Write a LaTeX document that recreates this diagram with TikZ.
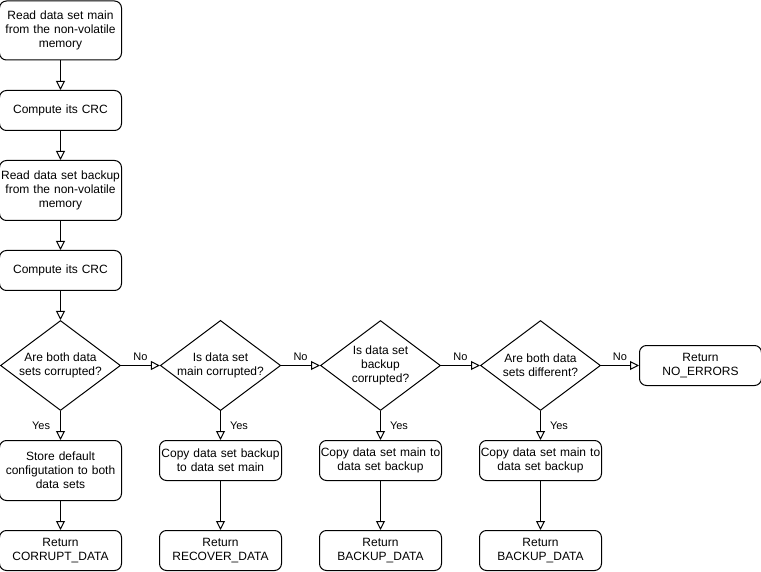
\documentclass[tikz,border=0pt]{standalone}
\usepackage{fontspec}
\setmainfont{Liberation Sans}
\usetikzlibrary{arrows.meta,shapes.geometric}
\begin{document}
\begin{tikzpicture}[x=1pt,y=-1pt,
  every node/.style={font=\fontsize{12}{14}\selectfont},
  box/.style={draw,line width=1pt,rounded corners=7pt,minimum width=120pt,align=center,inner sep=0pt,text width=122pt},
  dia/.style={draw,line width=1pt,diamond,minimum width=120pt,minimum height=90pt,inner sep=0pt,align=center,aspect=1.333},
  conn/.style={line width=1pt,-{Triangle[open,length=9pt,width=9pt]}},
  lbl/.style={font=\fontsize{11}{13}\selectfont,inner sep=0pt}]
\useasboundingbox (0,0) rectangle (761,572);
\node[box,minimum height=59pt] (b1) at (60.5,30.5) {Read data set main\\from the non-volatile\\memory};
\node[box,minimum height=40pt] (b2) at (60.5,110.5) {Compute its CRC};
\node[box,minimum height=60pt] (b3) at (60.5,190.5) {Read data set backup\\from the non-volatile\\memory};
\node[box,minimum height=40pt] (b4) at (60.5,270.5) {Compute its CRC};
\node[dia] (d1) at (60.5,365.5) {Are both data\\sets corrupted?};
\node[dia] (d2) at (220.5,365.5) {Is data set\\main corrupted?};
\node[dia] (d3) at (380.5,365.5) {Is data set\\backup\\corrupted?};
\node[dia] (d4) at (540.5,365.5) {Are both data\\sets different?};
\node[box,minimum height=40pt] (ne) at (700.5,365.5) {Return\\NO\_ERRORS};
\node[box,minimum height=60pt] (s1) at (60.5,470.5) {Store default\\configutation to both\\data sets};
\node[box,minimum height=40pt] (s2) at (220.5,460.5) {Copy data set backup\\to data set main};
\node[box,minimum height=40pt] (s3) at (380.5,460.5) {Copy data set main to\\data set backup};
\node[box,minimum height=40pt] (s4) at (540.5,460.5) {Copy data set main to\\data set backup};
\node[box,minimum height=40pt] (r1) at (60.5,550.5) {Return\\CORRUPT\_DATA};
\node[box,minimum height=40pt] (r2) at (220.5,550.5) {Return\\RECOVER\_DATA};
\node[box,minimum height=40pt] (r3) at (380.5,550.5) {Return\\BACKUP\_DATA};
\node[box,minimum height=40pt] (r4) at (540.5,550.5) {Return\\BACKUP\_DATA};
\draw[conn] (b1) -- (b2);
\draw[conn] (b2) -- (b3);
\draw[conn] (b3) -- (b4);
\draw[conn] (b4) -- (d1);
\draw[conn] (d1) -- (d2) node[lbl,pos=0.5,above=4pt] (n1) {No};
\draw[conn] (d2) -- (d3) node[lbl,pos=0.5,above=4pt] (n2) {No};
\draw[conn] (d3) -- (d4) node[lbl,pos=0.5,above=4pt] (n3) {No};
\draw[conn] (d4) -- (ne) node[lbl,pos=0.5,above=4pt] (n4) {No};
\draw[conn] (d1) -- (s1) node[lbl,pos=0.5,left=10pt] (y1) {Yes};
\draw[conn] (d2) -- (s2) node[lbl,pos=0.5,right=9pt] (y2) {Yes};
\draw[conn] (d3) -- (s3) node[lbl,pos=0.5,right=9pt] (y3) {Yes};
\draw[conn] (d4) -- (s4) node[lbl,pos=0.5,right=9pt] (y4) {Yes};
\draw[conn] (s1) -- (r1);
\draw[conn] (s2) -- (r2);
\draw[conn] (s3) -- (r3);
\draw[conn] (s4) -- (r4);
\end{tikzpicture}
\end{document}
